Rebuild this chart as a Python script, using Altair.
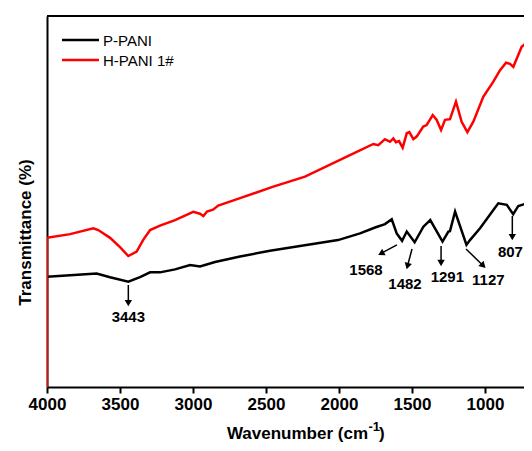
import altair as alt
import pandas as pd

# ---- data ----
series_names = ["P-PANI", "H-PANI 1#"]
series_colors = ["#000000", "#ff0000"]

p_wn = [4000, 3842, 3660, 3568, 3443, 3363, 3294, 3226, 3123, 3020,
        2952, 2849, 2678, 2473, 2267, 2007, 1856, 1753, 1685, 1639,
        1605, 1568, 1536, 1482, 1422, 1375, 1291, 1251, 1240, 1205,
        1127, 1103, 1034, 943, 909, 851, 807, 772, 692, 670]
p_t = [29.7, 30.1, 30.6, 29.6, 28.4, 29.6, 30.9, 30.9, 31.7, 32.9,
       32.5, 33.7, 35.2, 36.7, 38.0, 39.6, 41.4, 43.0, 43.9, 45.2,
       41.4, 39.4, 41.9, 39.0, 43.2, 45.0, 39.2, 41.9, 42.0, 47.3,
       38.3, 39.6, 42.8, 47.7, 49.5, 49.1, 46.6, 48.8, 49.7, 49.9]

h_wn = [4000, 4000, 3842, 3683, 3649, 3568, 3500, 3443, 3386, 3342,
        3294, 3226, 3123, 2998, 2952, 2929, 2904, 2863, 2827, 2678,
        2450, 2233, 1925, 1765, 1731, 1685, 1651, 1628, 1610, 1589,
        1564, 1536, 1518, 1491, 1468, 1423, 1400, 1358, 1331, 1301,
        1274, 1240, 1199, 1160, 1121, 1080, 1012, 943, 897, 856,
        829, 806, 781, 749, 714, 678, 670]
h_t = [0, 40.2, 41.2, 42.8, 42.3, 40.2, 37.7, 35.3, 36.5, 39.6,
       42.3, 43.5, 45.0, 47.2, 46.7, 46.1, 47.3, 47.8, 48.9, 50.9,
       54.0, 56.7, 62.5, 65.5, 65.2, 66.8, 66.1, 67.0, 66.0, 66.3,
       64.5, 68.4, 68.7, 66.8, 67.5, 70.2, 70.6, 73.3, 72.0, 69.3,
       72.0, 72.2, 76.9, 71.5, 68.7, 71.5, 78.2, 82.3, 85.4, 87.4,
       87.1, 86.3, 88.7, 91.7, 92.8, 94.0, 94.3]

# peak annotations
ann_label = ["3443", "1568", "1482", "1291", "1127", "807"]
ann_x0 = [3443, 1603, 1500, 1301, 1130, 813]
ann_y0 = [27.5, 38.3, 37.2, 38.0, 37.2, 46.1]
ann_x1 = [3443, 1712, 1531, 1301, 1012, 813]
ann_y1 = [22.6, 36.0, 32.6, 33.4, 32.7, 40.4]
ann_lx = [3443, 1815, 1548, 1258, 977, 826]
ann_ly = [18.9, 31.5, 27.8, 29.6, 28.8, 36.4]
ann_angle = [0, 62, 15, 0, 315, 0]

x_tick_values = [4000, 3750, 3500, 3250, 3000, 2750, 2500, 2250, 2000,
                 1750, 1500, 1250, 1000, 750]
x_domain = [4000, 733]
y_domain = [0, 100]

W, H = 477, 371
FONT = "Liberation Sans"
TITLE_Y = 423

# ---- build tables ----
rows = []
for i, (w, t) in enumerate(zip(p_wn, p_t)):
    rows.append({"series": series_names[0], "wn": w, "t": t, "idx": i})
for i, (w, t) in enumerate(zip(h_wn, h_t)):
    rows.append({"series": series_names[1], "wn": w, "t": t, "idx": i})
df = pd.DataFrame(rows)

ann = pd.DataFrame({
    "label": ann_label, "x0": ann_x0, "y0": ann_y0, "x1": ann_x1,
    "y1": ann_y1, "lx": ann_lx, "ly": ann_ly, "ang": ann_angle,
})

x_scale = alt.Scale(domain=x_domain, nice=False, zero=False)
y_scale = alt.Scale(domain=y_domain, nice=False, zero=False)

x_axis = alt.Axis(
    values=x_tick_values,
    labelExpr="datum.value % 500 === 0 ? datum.label : ''",
    format="d",
    tickSize={"condition": {"test": "datum.value % 500 === 0", "value": 6}, "value": 3.5},
    tickColor="black", tickWidth=2,
    domainColor="black", domainWidth=2,
    labelFont=FONT, labelFontSize=17, labelFontWeight="bold", labelColor="black",
    labelPadding=3, labelFlush=False, labelOverlap=False,
    grid=False, title=None,
)
y_axis = alt.Axis(
    labels=False, ticks=False, grid=False,
    domainColor="black", domainWidth=2,
    title="Transmittance (%)",
    titleFont=FONT, titleFontSize=17, titleFontWeight="bold", titleColor="black",
    titleAngle=270, titleX=-22, titleY=216, titleAlign="center", titleBaseline="middle",
)

lines = alt.Chart(df).mark_line(strokeWidth=2.5, clip=True).encode(
    x=alt.X("wn:Q", scale=x_scale, axis=x_axis),
    y=alt.Y("t:Q", scale=y_scale, axis=y_axis),
    color=alt.Color("series:N", scale=alt.Scale(domain=series_names, range=series_colors), legend=None),
    order=alt.Order("idx:Q"),
    detail="series:N",
)

arrows = alt.Chart(ann).mark_rule(color="black", strokeWidth=1.5).encode(
    x=alt.X("x0:Q", scale=x_scale), y=alt.Y("y0:Q", scale=y_scale),
    x2="x1:Q", y2="y1:Q",
)
heads = alt.Chart(ann).mark_point(shape="triangle-down", filled=True, color="black",
                                  size=55, opacity=1).encode(
    x=alt.X("x1:Q", scale=x_scale), y=alt.Y("y1:Q", scale=y_scale),
    angle=alt.Angle("ang:Q", scale=None),
)
labels = alt.Chart(ann).mark_text(font=FONT, fontSize=15, fontWeight="bold",
                                  color="black", baseline="middle", align="center").encode(
    x=alt.X("lx:Q", scale=x_scale), y=alt.Y("ly:Q", scale=y_scale), text="label:N",
)

one = pd.DataFrame({"a": [0]})
top_border = alt.Chart(one).mark_rule(color="black", strokeWidth=2).encode(
    x=alt.value(0), x2=alt.value(W), y=alt.value(0),
)

# legend (manual)
legend_layers = []
for k, (name, col) in enumerate(zip(series_names, series_colors)):
    yy = 24 + 20 * k
    legend_layers.append(alt.Chart(one).mark_rule(color=col, strokeWidth=2.5).encode(
        x=alt.value(15), x2=alt.value(52), y=alt.value(yy)))
    legend_layers.append(alt.Chart(pd.DataFrame({"t": [name]})).mark_text(
        font=FONT, fontSize=15, color="black", align="left", baseline="middle").encode(
        x=alt.value(56), y=alt.value(yy + 1), text="t:N"))

# x-axis title with superscript
xt1 = alt.Chart(pd.DataFrame({"t": ["Wavenumber (cm"]})).mark_text(
    font=FONT, fontSize=17, fontWeight="bold", color="black", align="right",
    baseline="alphabetic").encode(x=alt.value(321), y=alt.value(TITLE_Y), text="t:N")
xt2 = alt.Chart(pd.DataFrame({"t": ["-1"]})).mark_text(
    font=FONT, fontSize=13, fontWeight="bold", color="black", align="left",
    baseline="alphabetic").encode(x=alt.value(321.5), y=alt.value(TITLE_Y - 8), text="t:N")
xt3 = alt.Chart(pd.DataFrame({"t": [")"]})).mark_text(
    font=FONT, fontSize=17, fontWeight="bold", color="black", align="left",
    baseline="alphabetic").encode(x=alt.value(332), y=alt.value(TITLE_Y), text="t:N")

chart = alt.layer(
    lines, arrows, heads, labels, top_border, *legend_layers, xt1, xt2, xt3
).properties(
    width=W, height=H,
    autosize=alt.AutoSizeParams(type="none"),
    padding={"left": 39, "top": 8, "right": 0, "bottom": 56},
).configure_view(stroke=None)

chart.save("out.html", embed_options={"renderer": "svg", "actions": False})
